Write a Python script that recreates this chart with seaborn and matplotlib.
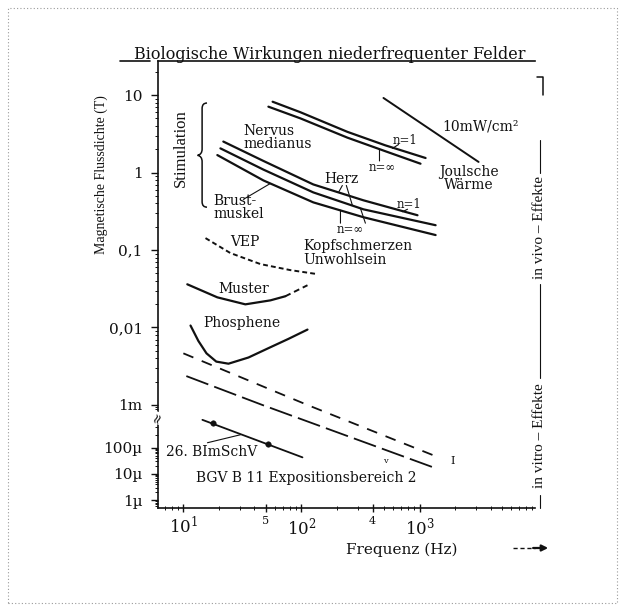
import numpy as np
import matplotlib
matplotlib.use("Agg")
import matplotlib.pyplot as plt
import seaborn as sns
from matplotlib.patches import Rectangle, PathPatch
from matplotlib.path import Path
from matplotlib.lines import Line2D
from matplotlib.ticker import FixedLocator, NullFormatter

# ---------------- data: frequency (Hz) / magnetic flux density (T) ----------------
nervus_n1_f = [57, 98, 245, 515, 1125]
nervus_n1_b = [8.2, 6.0, 3.35, 2.24, 1.54]
nervus_ninf_f = [52.5, 98, 245, 515, 1019]
nervus_ninf_b = [7.08, 5.0, 2.82, 1.88, 1.30]

joule_f = [495, 3162]
joule_b = [9.17, 1.37]

herz_n1_f = [21.8, 47.7, 126, 335, 961]
herz_n1_b = [2.51, 1.41, 0.702, 0.438, 0.281]
herz_ninf_f = [20.6, 47.7, 126, 335, 1368]
herz_ninf_b = [2.05, 1.09, 0.554, 0.335, 0.209]
brust_f = [19.4, 47.7, 126, 335, 1368]
brust_b = [1.68, 0.79, 0.412, 0.265, 0.156]

vep_f = [15.4, 25, 45, 80.7, 137]
vep_b = [0.1425, 0.0914, 0.0658, 0.055, 0.0488]

muster_f = [10.8, 19.4, 33.5, 54.6, 73]
muster_b = [0.0361, 0.0245, 0.0199, 0.0224, 0.0253]
muster_ext_f = [73, 112.5]
muster_ext_b = [0.0253, 0.0351]

phos_f = [11.5, 13.4, 15.7, 19.0, 24.1, 35.6, 52.5, 77.6, 112.5]
phos_b = [0.0106, 6.71e-3, 4.64e-3, 3.63e-3, 3.41e-3, 4.1e-3, 5.41e-3, 7.13e-3, 9.4e-3]

bgv_upper_f = [10, 112.5, 1449]
bgv_upper_b = [4.64e-3, 1e-3, 4.26e-5]
bgv_lower_f = [10.6, 46.7, 1288]
bgv_lower_b = [2.36e-3, 1e-3, 1.82e-5]

bimschv_f = [14.5, 61.4, 102]
bimschv_b = [4.48e-4, 1e-4, 4.26e-5]
bimschv_pts_f = [18, 52]
bimschv_pts_b = [3.8e-4, 1.2e-4]

y_ticks = [10, 1, 0.1, 0.01, 1e-3, 1e-4, 1e-5, 1e-6]
y_ticklabels = ["10", "1", "0,1", "0,01", "1m", "100µ", "10µ", "1µ"]
x_ticks = [10, 50, 100, 400, 1000]
x_ticklabels = [r"$10^1$", "5", r"$10^2$", "4", r"$10^3$"]

# ---------------- styling ----------------
sns.set_style("ticks")
plt.rcParams["font.family"] = ["DejaVu Serif"]
plt.rcParams["mathtext.fontset"] = "dejavuserif"
INK = "#111111"
COND = ["Liberation Serif", "DejaVu Serif"]

fig = plt.figure(figsize=(6.25, 6.15), dpi=100)
ax = fig.add_axes([0.2528, 0.174, 0.6032, 0.7268])

# broken log axis: full decades above 1 mT, compressed decades below
L_ANCH = np.array([-12.0, -4.0, -3.0, 6.0])
U_ANCH = np.array([-3.55 - 8 * 0.34, -3.55, -3.0, 6.0])


def fwd(b):
    b = np.clip(np.asarray(b, dtype=float), 1e-12, None)
    return np.interp(np.log10(b), L_ANCH, U_ANCH)


def inv(u):
    return 10 ** np.interp(np.asarray(u, dtype=float), U_ANCH, L_ANCH)


ax.set_xscale("log")
ax.set_yscale("function", functions=(fwd, inv))
ax.set_xlim(6.1, 9500)
ax.set_ylim(5.1e-7, 27.5)


def curve(f, b, **kw):
    style = dict(color=INK, lw=1.6, estimator=None, sort=False)
    style.update(kw)
    sns.lineplot(x=f, y=b, ax=ax, **style)


curve(nervus_n1_f, nervus_n1_b)
curve(nervus_ninf_f, nervus_ninf_b)
curve(joule_f, joule_b, lw=1.4)
curve(herz_n1_f, herz_n1_b)
curve(herz_ninf_f, herz_ninf_b)
curve(brust_f, brust_b)
curve(vep_f, vep_b, lw=1.4, linestyle=(0, (2.5, 1.6)))
curve(muster_f, muster_b)
curve(muster_ext_f, muster_ext_b, lw=1.4, linestyle=(0, (3, 2)))
curve(phos_f, phos_b)
curve(bgv_upper_f, bgv_upper_b, lw=1.3, linestyle=(0, (6, 5)))
curve(bgv_lower_f, bgv_lower_b, lw=1.3, linestyle=(0, (13, 3.5)))
curve(bimschv_f, bimschv_b, lw=1.3)
sns.scatterplot(x=bimschv_pts_f, y=bimschv_pts_b, ax=ax, color=INK, s=16,
                edgecolor=INK, zorder=3)

# ---------------- axes ----------------
for side in ("left", "bottom", "top"):
    ax.spines[side].set_linewidth(1.2)
    ax.spines[side].set_color(INK)
ax.spines["right"].set_visible(False)

ax.set_yticks(y_ticks)
ax.set_yticklabels(y_ticklabels, fontsize=11)
minor_y = [m * 10.0 ** k for k in range(-7, 2) for m in range(2, 10)]
minor_y = [v for v in minor_y if 5.1e-7 < v < 27.5]
ax.yaxis.set_minor_locator(FixedLocator(minor_y))
ax.yaxis.set_minor_formatter(NullFormatter())
ax.tick_params(axis="y", which="major", direction="out", length=5, width=1,
               pad=6, colors=INK)
ax.tick_params(axis="y", which="minor", direction="out", length=2, width=0.7,
               colors=INK)

ax.set_xticks(x_ticks)
ax.set_xticklabels(x_ticklabels, fontsize=12)
for lab in ax.get_xticklabels():
    if lab.get_text() in ("5", "4"):
        lab.set_fontsize(8)
        lab.set_verticalalignment("top")
ax.tick_params(axis="x", which="major", direction="inout", length=6, width=1,
               pad=3, colors=INK)
ax.tick_params(axis="x", which="minor", direction="inout", length=3,
               width=0.7, colors=INK)
ax.grid(False)

# axis break mark on the left spine
ax.text(0, 0.201, "≈", transform=ax.transAxes, rotation=70, ha="center",
        va="center", fontsize=10, color=INK,
        bbox=dict(fc="white", ec="none", pad=0.2))

# short stroke left of the top frame line
ax.add_line(Line2D([-0.10, -0.02], [1.0, 1.0], transform=ax.transAxes,
                   color=INK, lw=1.2, clip_on=False))

# ---------------- curve labels ----------------
lab_kw = dict(fontsize=10, color=INK)
ax.text(32.2, 2.82, "Nervus\nmedianus", ha="left", va="center",
        linespacing=0.95, **lab_kw)
ax.text(760, 2.59, "n=1", ha="center", va="center", fontsize=8.5, color=INK)
ax.text(485, 1.155, "n=∞", ha="center", va="center", fontsize=8.5, color=INK)
ax.text(218, 0.813, "Herz", ha="center", va="center", **lab_kw)
ax.text(822, 0.389, "n=1", ha="center", va="center", fontsize=8.5, color=INK)
ax.text(260, 0.186, "n=∞", ha="center", va="center", fontsize=8.5, color=INK)
ax.text(18, 0.356, "Brust-\nmuskel", ha="left", va="center",
        linespacing=0.95, **lab_kw)
ax.text(32.9, 0.127, "VEP", ha="center", va="center", **lab_kw)
ax.text(32.2, 0.0312, "Muster", ha="center", va="center", **lab_kw)
ax.text(31, 0.0116, "Phosphene", ha="center", va="center", **lab_kw)
ax.text(104, 0.0914, "Kopfschmerzen\nUnwohlsein", ha="left", va="center",
        linespacing=1.0, **lab_kw)
ax.text(1567, 3.87, "10mW/cm²", ha="left", va="center", **lab_kw)
ax.text(2600, 0.838, "Joulsche\nWärme", ha="center", va="center",
        linespacing=0.95, **lab_kw)
ax.text(9.44, 2.05, "Stimulation", rotation=90, ha="center", va="center",
        fontsize=12, family=COND, color=INK)
ax.text(7.18, 7.1e-5, "26. BImSchV", ha="left", va="center", **lab_kw)
ax.text(110, 7.0e-6, "BGV B 11 Expositionsbereich 2", ha="center",
        va="center", **lab_kw)
ax.text(515, 3.03e-5, "v", ha="center", va="center", fontsize=6, color=INK)
ax.text(1905, 3.03e-5, "I", ha="center", va="center", fontsize=8, color=INK)

# leader lines from labels to curves
leaders = [
    ((664, 2.30), (590, 2.05)),
    ((458, 1.41), (458, 2.0)),
    ((222, 0.681), (206, 0.554)),
    ((240, 0.681), (270, 0.377)),
    ((791, 0.336), (718, 0.312)),
    ((214, 0.222), (214, 0.326)),
    ((348, 0.222), (316, 0.345)),
    ((32.2, 0.45), (54.6, 0.723)),
    ((16, 1.3e-4), (30.4, 2.0e-4)),
]
for start, end in leaders:
    ax.annotate("", xy=end, xytext=start,
                arrowprops=dict(arrowstyle="-", lw=0.8, color=INK,
                                shrinkA=0, shrinkB=0))

# brace grouping the stimulation thresholds
bx0, by_top, by_bot, by_mid = 0.117, 0.906, 0.673, 0.789
brace = Path(
    [(bx0 + 0.013, by_top), (bx0, by_top), (bx0, by_top - 0.012),
     (bx0, by_mid + 0.014),
     (bx0, by_mid + 0.002), (bx0 - 0.012, by_mid),
     (bx0, by_mid - 0.002), (bx0, by_mid - 0.014),
     (bx0, by_bot + 0.012),
     (bx0, by_bot), (bx0 + 0.013, by_bot)],
    [Path.MOVETO, Path.CURVE3, Path.CURVE3,
     Path.LINETO,
     Path.CURVE3, Path.CURVE3,
     Path.CURVE3, Path.CURVE3,
     Path.LINETO,
     Path.CURVE3, Path.CURVE3])
ax.add_patch(PathPatch(brace, transform=ax.transAxes, fill=False, lw=1.1,
                       ec=INK, clip_on=False))

# ---------------- right-hand column: in vitro / in vivo ----------------
col_x = 1.013
ax.text(col_x, 0.161, "in vitro – Effekte", transform=ax.transAxes,
        rotation=90, ha="center", va="center", fontsize=11, family=COND,
        color=INK)
ax.text(col_x, 0.6275, "in vivo – Effekte", transform=ax.transAxes,
        rotation=90, ha="center", va="center", fontsize=11, family=COND,
        color=INK)
for y0, y1 in ((0.0, 0.03), (0.29, 0.50), (0.75, 0.823)):
    ax.add_line(Line2D([col_x, col_x], [y0, y1], transform=ax.transAxes,
                       color=INK, lw=0.8, clip_on=False))
ax.add_line(Line2D([1.005, 1.021, 1.021], [0.965, 0.965, 0.924],
                   transform=ax.transAxes, color=INK, lw=1.1, clip_on=False))

# ---------------- titles and axis labels ----------------
fig.text(0.528, 0.9106, "Biologische Wirkungen niederfrequenter Felder",
         ha="center", va="center", fontsize=11.5, color=INK)
fig.text(101 / 625, 1 - 175 / 615, "Magnetische Flussdichte (T)",
         rotation=90, ha="center", va="center", fontsize=10, family=COND,
         color=INK)
ax.text(0.647, -0.094, "Frequenz (Hz)", transform=ax.transAxes, ha="center",
        va="center", fontsize=11, color=INK)
ax.add_line(Line2D([0.942, 1.0], [-0.0895, -0.0895], transform=ax.transAxes,
                   color=INK, lw=1.0, linestyle=(0, (3, 2)), clip_on=False))
ax.annotate("", xy=(1.035, -0.0895), xytext=(0.995, -0.0895),
            xycoords="axes fraction", textcoords="axes fraction",
            arrowprops=dict(arrowstyle="-|>", lw=1.6, color=INK,
                            mutation_scale=9, shrinkA=0, shrinkB=0))

# dotted page frame
fig.patches.append(Rectangle((8 / 625, 1 - 603 / 615), 609 / 625, 595 / 615,
                             transform=fig.transFigure, fill=False,
                             ls=(0, (1, 2)), lw=0.8, ec="#9a9a9a"))

fig.savefig("out.png", dpi=100)
